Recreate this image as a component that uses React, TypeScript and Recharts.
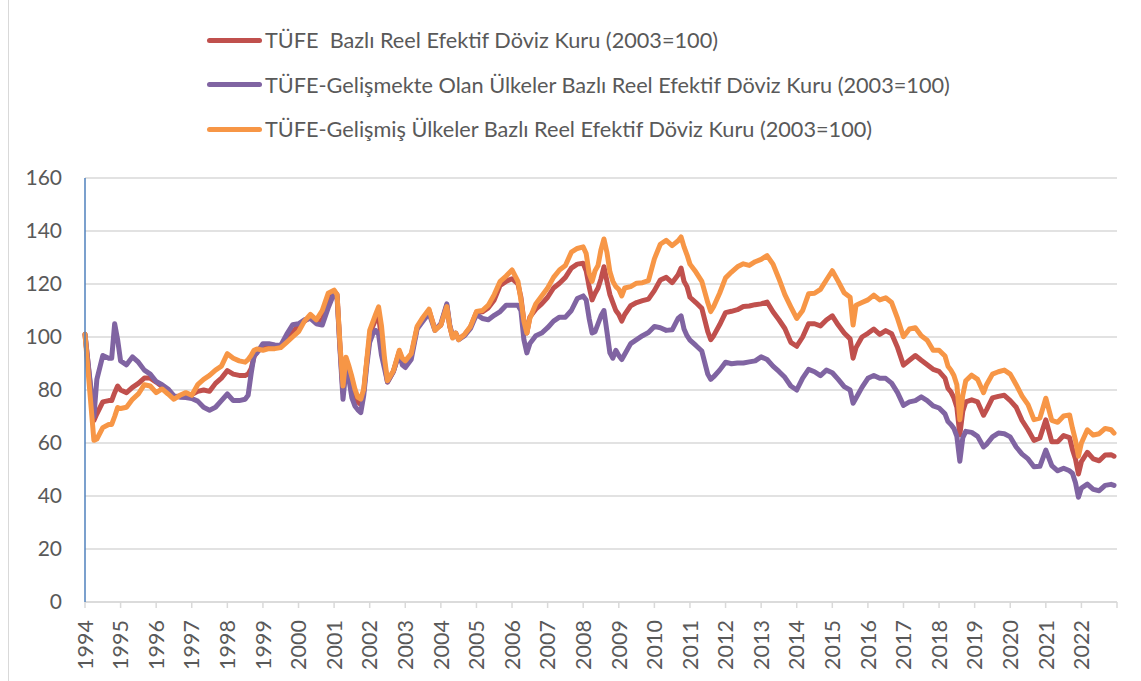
import { LineChart, Line, XAxis, YAxis, CartesianGrid } from "recharts"

// monthly observations (YYYY-MM), one line per year
const dates = [
  "1994-01", "1994-04", "1994-05", "1994-07", "1994-09", "1994-10", "1994-11", "1994-12",
  "1995-01", "1995-03", "1995-05", "1995-07", "1995-09", "1995-11",
  "1996-01", "1996-03", "1996-05", "1996-07", "1996-09", "1996-11",
  "1997-01", "1997-03", "1997-05", "1997-07", "1997-09", "1997-11",
  "1998-01", "1998-03", "1998-05", "1998-07", "1998-08", "1998-09", "1998-10", "1998-11",
  "1999-01", "1999-03", "1999-05", "1999-07", "1999-09", "1999-11",
  "2000-01", "2000-03", "2000-05", "2000-07", "2000-09", "2000-11",
  "2001-01", "2001-02", "2001-03", "2001-04", "2001-05", "2001-06", "2001-07", "2001-08", "2001-09", "2001-10", "2001-11", "2001-12",
  "2002-01", "2002-02", "2002-03", "2002-04", "2002-05", "2002-06", "2002-07", "2002-09", "2002-11", "2002-12",
  "2003-01", "2003-03", "2003-05", "2003-07", "2003-09", "2003-11",
  "2004-01", "2004-03", "2004-04", "2004-05", "2004-06", "2004-07", "2004-09", "2004-11",
  "2005-01", "2005-03", "2005-05", "2005-07", "2005-09", "2005-11",
  "2006-01", "2006-03", "2006-04", "2006-05", "2006-06", "2006-07", "2006-09", "2006-11",
  "2007-01", "2007-03", "2007-05", "2007-07", "2007-09", "2007-11",
  "2008-01", "2008-02", "2008-03", "2008-04", "2008-05", "2008-06", "2008-07", "2008-08", "2008-09", "2008-10", "2008-11", "2008-12",
  "2009-01", "2009-02", "2009-03", "2009-05", "2009-07", "2009-09", "2009-11",
  "2010-01", "2010-03", "2010-05", "2010-07", "2010-09", "2010-10", "2010-11", "2010-12",
  "2011-01", "2011-03", "2011-05", "2011-07", "2011-08", "2011-09", "2011-11",
  "2012-01", "2012-03", "2012-05", "2012-07", "2012-09", "2012-11",
  "2013-01", "2013-03", "2013-05", "2013-07", "2013-09", "2013-11",
  "2014-01", "2014-03", "2014-05", "2014-07", "2014-09", "2014-11",
  "2015-01", "2015-03", "2015-05", "2015-07", "2015-08", "2015-09", "2015-11",
  "2016-01", "2016-03", "2016-05", "2016-07", "2016-09", "2016-11",
  "2017-01", "2017-03", "2017-05", "2017-07", "2017-09", "2017-11",
  "2018-01", "2018-03", "2018-04", "2018-05", "2018-06", "2018-07", "2018-08", "2018-09", "2018-10", "2018-12",
  "2019-02", "2019-04", "2019-05", "2019-07", "2019-09", "2019-11",
  "2020-01", "2020-03", "2020-05", "2020-07", "2020-09", "2020-11",
  "2021-01", "2021-03", "2021-05", "2021-07", "2021-09", "2021-10", "2021-11", "2021-12",
  "2022-01", "2022-03", "2022-05", "2022-07", "2022-09", "2022-11", "2022-12",
]

// TÜFE bazlı reel efektif döviz kuru
const tufe = [
  101, 68.5, 71, 75.5, 76, 76, 79, 81.5,
  80, 79, 81, 82.5, 84.5, 84.5,
  83, 81.3, 79.7, 77.5, 77.7, 78,
  78.3, 79.5, 80, 79.5, 82.5, 84.5,
  87.3, 86, 85.5, 85.5, 86, 88, 92.5, 94.5,
  96, 96, 96, 96.5, 99.5, 102,
  104, 106, 107.5, 105.5, 106.5, 114,
  117.3, 116, 96, 79, 90, 86.5, 82, 78, 75.5, 74.5, 79.5, 90.5,
  100, 104, 106.5, 108, 99, 90, 83, 87, 94.5, 91,
  90, 93, 103.5, 107, 110, 103,
  104.5, 112, 104, 99.8, 101.4, 99.2, 100.8, 103.8,
  109.3, 109.5, 111, 114, 119.5, 121,
  122, 120, 115, 106, 101.5, 107.5, 110.5, 112.5,
  115, 118.5, 120.3, 122.5, 126, 127.5,
  127.8, 125, 119, 114, 116.5, 118.5, 122, 126.5, 121, 116, 113, 110,
  108.5, 106, 108.5, 111.8, 113, 113.7, 114.3,
  117.5, 121.5, 122.5, 120.5, 123.5, 126, 121, 119,
  115, 113, 110.8, 102, 99, 100.5, 104.6,
  109.2, 109.7, 110.3, 111.5, 111.7, 112.2,
  112.5, 113.2, 109.5, 106.5, 103.2, 98,
  96.5, 100, 105, 105, 104.2, 106.4,
  108, 104.5, 101.5, 99.3, 92, 96, 100,
  101.4, 103, 101, 102.4, 101.2, 96,
  89.4, 91.2, 93, 91.2, 89.5, 87.8,
  87, 84.5, 80.6, 79.3, 77, 73.5, 63.1, 72, 75.5, 76.3,
  75.5, 70.5, 72.5, 77, 77.6, 78,
  76, 73.5, 68.5, 65, 61, 61.9,
  68.75, 60.5, 60.5, 62.8, 62, 57.5, 54, 48.3,
  53, 56.5, 54, 53.3, 55.5, 55.6, 55,
]

// TÜFE - gelişmekte olan ülkeler bazlı
const gelismekte = [
  101, 70, 84, 93, 92, 92, 105, 99,
  91, 89.5, 92.5, 90.5, 87.5, 86,
  83.2, 82, 80.4, 77.8, 77.3, 77.2,
  76.8, 75.8, 73.5, 72.4, 73.5, 76,
  78.5, 76, 76, 76.5, 78, 86, 93, 94,
  97.5, 97.5, 97, 96.8, 101, 104.6,
  105, 106.5, 107, 105, 104.5, 111,
  116.5, 115, 95, 76.5, 88, 84, 77, 74, 72.5, 71.5, 78, 89,
  98, 101, 102.5, 101, 93, 88, 83, 87, 94, 89.5,
  88.5, 91.5, 103, 106, 109, 102.5,
  105, 112.5, 104.5, 100.2, 101.5, 99, 100.5, 103.2,
  108.5, 107, 106.5, 108.2, 109.6, 112,
  112, 112, 110, 99, 94, 97.5, 100.5, 101.5,
  103.5, 106, 107.5, 107.5, 110, 114.5,
  115.5, 114, 107, 101.5, 102, 105, 108, 110, 102, 94, 92, 95,
  93, 91.5, 93.5, 97.5, 99, 100.5, 101.7,
  104, 103.5, 102.5, 102.7, 107, 108, 103, 100.5,
  98.8, 96.8, 94.7, 86, 84, 85, 87.5,
  90.5, 89.9, 90.2, 90.2, 90.6, 91,
  92.5, 91.5, 89, 87, 84.8, 81.5,
  80, 84.5, 87.8, 86.9, 85.4, 87.5,
  86.5, 84, 81.3, 80, 75, 77, 81,
  84.4, 85.5, 84.4, 84.4, 82.6, 79,
  74.2, 75.5, 76, 77.4, 76, 74,
  73.2, 71, 68.1, 67, 65.5, 62.5, 53.1, 62, 64.4, 64,
  62.5, 58.5, 59.5, 62.3, 63.75, 63.5,
  62.3, 58.5, 55.8, 54, 51, 51.2,
  57.3, 51.5, 49.5, 50.5, 49.5, 48.5, 45, 39.5,
  43, 44.5, 42.5, 42, 44, 44.4, 44,
]

// TÜFE - gelişmiş ülkeler bazlı
const gelismis = [
  101, 61, 61.5, 65.8, 67, 67, 70, 73.4,
  73, 73.5, 76.5, 78.5, 82, 81.5,
  79, 80.4, 78.5, 76.5, 78, 79,
  78, 82, 84, 85.5, 87.5, 89,
  93.7, 92, 91, 90.5, 91.5, 93, 95, 95.5,
  95, 95.6, 95.6, 96, 98, 100,
  102, 106, 108.5, 106.5, 110, 116.5,
  117.7, 116, 97, 81.5, 92.4, 89, 85, 80.4, 77.2, 76.6, 80.4, 91,
  102.5, 105.5, 108.5, 111.4, 104, 92, 83.5, 87.3, 95, 92,
  91, 93.7, 104, 107.5, 110.5, 102.5,
  104.5, 111.5, 104, 99.6, 101.5, 99, 101, 104,
  109.6, 110, 112, 116, 121, 123,
  125.3, 121, 114, 106, 101.5, 107, 112.5, 115.5,
  118.5, 122.5, 125.3, 127, 132, 133.4,
  134, 131.5, 124, 121, 125, 127, 133, 137, 132, 124.6, 121, 119,
  118, 115.5, 118.5, 119, 120.3, 120.5, 121.3,
  129.5, 135, 136.5, 134.5, 136.3, 137.75, 134, 131,
  127.5, 124.5, 121, 113, 109.6, 111.5, 116.5,
  122.3, 124.5, 126.5, 127.6, 127, 128.4,
  129.3, 130.7, 127.5, 122, 116, 111.4,
  107, 110, 116.3, 116.5, 118, 121.5,
  125, 121, 116.7, 115, 104.5, 112, 113,
  114, 115.8, 114, 114.8, 113, 107,
  100.1, 103, 103.5, 100.5, 98.8, 95,
  95, 92.8, 89, 87.5, 85.5, 82, 68.8, 78, 83.5, 85.6,
  84, 79, 82, 86, 86.9, 87.5,
  86, 82, 77.7, 74.5, 68.8, 69.4,
  76.9, 68.5, 67.8, 70.2, 70.6, 65.5, 61, 55,
  60, 65, 63, 63.5, 65.5, 65, 63.75,
]

const years = Array.from({ length: 30 }, (_, i) => 1994 + i) // 1994..2023 (last tick unlabeled)
const yTicks = [0, 20, 40, 60, 80, 100, 120, 140, 160]

const series = [
  { key: "tufe", name: "TÜFE  Bazlı Reel Efektif Döviz Kuru (2003=100)", color: "#c0504d" },
  { key: "gelismekte", name: "TÜFE-Gelişmekte Olan Ülkeler Bazlı Reel Efektif Döviz Kuru (2003=100)", color: "#8064a2" },
  { key: "gelismis", name: "TÜFE-Gelişmiş Ülkeler Bazlı Reel Efektif Döviz Kuru (2003=100)", color: "#f79646" },
]

const data = dates.map((d, i) => {
  const [y, m] = d.split("-").map(Number)
  return { t: y + (m - 1) / 12, tufe: tufe[i], gelismekte: gelismekte[i], gelismis: gelismis[i] }
})

const FONT = "Lato, 'Open Sans', sans-serif"
const TEXT = "#595959"

function YearTick({ x, y, payload }: any) {
  if (payload.value === 2023) return null
  return (
    <text
      x={x}
      y={y}
      dy="0.36em"
      transform={`rotate(-90, ${x}, ${y})`}
      textAnchor="end"
      fill={TEXT}
      fontSize={21.5}
      fontFamily={FONT}
    >
      {payload.value}
    </text>
  )
}

export default function App() {
  return (
    <div style={{ position: "relative", width: 1141, height: 681, background: "#fff", fontFamily: FONT }}>
      <style>{"body{margin:0}"}</style>
      {/* chart area border */}
      <div style={{ position: "absolute", left: 8, top: 0, width: 1, height: 681, background: "#d9d9d9" }} />

      {/* Legend */}
      <div style={{ position: "absolute", left: 207, top: 18 }}>
        {series.map((s) => (
          <div key={s.key} style={{ display: "flex", alignItems: "center", height: 44.5 }}>
            <div style={{ width: 55, height: 5, borderRadius: 3, background: s.color, marginRight: 3 }} />
            <span style={{ fontSize: 21.7, color: TEXT, whiteSpace: "pre" }}>{s.name}</span>
          </div>
        ))}
      </div>

      <LineChart width={1141} height={681} data={data} margin={{ top: 178, right: 24, bottom: 9, left: 25 }}>
        <CartesianGrid vertical={false} stroke="#d9d9d9" strokeWidth={1.5} />
        <XAxis
          type="number"
          dataKey="t"
          domain={[1994, 2023]}
          ticks={years}
          interval={0}
          height={70}
          tickSize={6}
          tickMargin={12}
          axisLine={{ stroke: "#d9d9d9", strokeWidth: 1.5 }}
          tickLine={{ stroke: "#d9d9d9", strokeWidth: 1.5 }}
          tick={(props: any) => <YearTick {...props} />}
        />
        <YAxis
          domain={[0, 160]}
          ticks={yTicks}
          width={60}
          axisLine={{ stroke: "#4f81bd", strokeWidth: 1.5 }}
          tickLine={false}
          tickSize={0}
          tickMargin={23}
          tick={{ fill: TEXT, fontSize: 21, fontFamily: FONT }}
        />
        {series.map((s) => (
          <Line
            key={s.key}
            dataKey={s.key}
            name={s.name}
            type="linear"
            stroke={s.color}
            strokeWidth={5}
            strokeLinejoin="round"
            strokeLinecap="round"
            dot={false}
            activeDot={false}
            isAnimationActive={false}
          />
        ))}
      </LineChart>
    </div>
  )
}
